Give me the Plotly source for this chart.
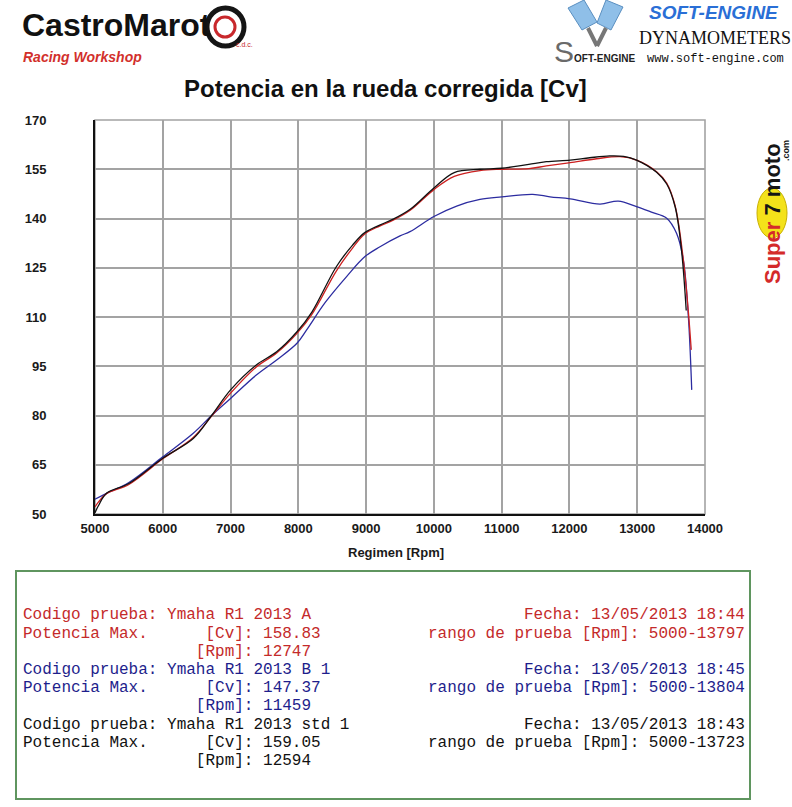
import plotly.graph_objects as go

# ---------------- data ----------------
rpm_a = [5000, 5050, 5170, 5500, 6000, 6450, 6720, 7000, 7380, 7680, 7980, 8200, 8560, 8800,
         8980, 9200, 9400, 9650, 10000, 10300, 10680, 11000, 11400, 11660, 12010, 12400, 12747,
         12990, 13290, 13435, 13560, 13680, 13755, 13797]
cv_a = [52.2, 53.6, 56.2, 59.0, 66.8, 73.3, 79.8, 86.8, 94.8, 99.0, 105.0, 110.8, 124.0, 131.0,
        135.3, 137.7, 139.5, 142.5, 148.8, 152.8, 154.6, 155.0, 155.2, 156.0, 157.0, 158.2, 158.83,
        157.8, 154.2, 150.8, 143.8, 127.5, 111.5, 100.0]

rpm_b = [5000, 5170, 5500, 6000, 6450, 6720, 7000, 7380, 7680, 7980, 8120, 8400, 8712, 8983,
         9205, 9500, 9647, 10000, 10336, 10680, 11000, 11459, 11713, 12010, 12450, 12720, 12990,
         13200, 13435, 13580, 13680, 13755, 13804]
cv_b = [54.5, 56.3, 59.6, 67.4, 74.6, 80.0, 85.2, 92.3, 96.9, 102.0, 106.0, 114.5, 122.3, 128.4,
        131.4, 134.7, 136.0, 140.6, 143.8, 145.8, 146.6, 147.37, 146.6, 146.0, 144.4, 145.3, 143.6,
        142.0, 140.1, 135.5, 127.4, 110.0, 87.8]

rpm_std = [5000, 5050, 5170, 5500, 6000, 6450, 6720, 7000, 7380, 7680, 7980, 8200, 8560, 8800,
           8980, 9200, 9400, 9650, 10000, 10300, 10680, 11000, 11400, 11660, 12010, 12300, 12594,
           12800, 12990, 13290, 13435, 13560, 13650, 13723]
cv_std = [50.4, 52.5, 56.3, 59.3, 67.0, 73.0, 80.0, 87.8, 95.4, 99.4, 105.5, 111.5, 125.3, 131.9,
          135.7, 138.0, 139.8, 142.8, 149.3, 154.0, 155.0, 155.3, 156.5, 157.3, 157.8, 158.5, 159.05,
          158.9, 157.8, 154.0, 150.5, 143.5, 131.0, 112.0]

x_ticks = [5000, 6000, 7000, 8000, 9000, 10000, 11000, 12000, 13000, 14000]
y_ticks = [50, 65, 80, 95, 110, 125, 140, 155, 170]

title_text = "Potencia en la rueda corregida [Cv]"
x_title = "Regimen [Rpm]"

left_lines = [
    ("Codigo prueba: Ymaha R1 2013 A", "red"),
    ("Potencia Max.      [Cv]: 158.83", "red"),
    ("                  [Rpm]: 12747", "red"),
    ("Codigo prueba: Ymaha R1 2013 B 1", "blue"),
    ("Potencia Max.      [Cv]: 147.37", "blue"),
    ("                  [Rpm]: 11459", "blue"),
    ("Codigo prueba: Ymaha R1 2013 std 1", "black"),
    ("Potencia Max.      [Cv]: 159.05", "black"),
    ("                  [Rpm]: 12594", "black"),
]
right_lines = [
    ("Fecha: 13/05/2013 18:44", "red", 0),
    ("rango de prueba [Rpm]: 5000-13797", "red", 1),
    ("Fecha: 13/05/2013 18:45", "blue", 3),
    ("rango de prueba [Rpm]: 5000-13804", "blue", 4),
    ("Fecha: 13/05/2013 18:43", "black", 6),
    ("rango de prueba [Rpm]: 5000-13723", "black", 7),
]

COL = {"red": "#c42a2a", "blue": "#1e1e8c", "black": "#111111"}

# ---------------- geometry helpers ----------------
W, H = 792, 807
L, R, T, B = 95, 705, 120, 514


def px(x):
    return (x - L) / (R - L)


def py(y):
    return (B - y) / (B - T)


def path(points):
    return "M " + " L ".join(f"{px(x):.5f},{py(y):.5f}" for x, y in points) + " Z"


fig = go.Figure()
fig.add_trace(go.Scatter(x=rpm_b, y=cv_b, mode="lines", line=dict(color="#2c2ca0", width=1.3),
                         line_shape="spline", hoverinfo="x+y"))
fig.add_trace(go.Scatter(x=rpm_a, y=cv_a, mode="lines", line=dict(color="#cc2020", width=1.3),
                         line_shape="spline", hoverinfo="x+y"))
fig.add_trace(go.Scatter(x=rpm_std, y=cv_std, mode="lines", line=dict(color="#111111", width=1.3),
                         line_shape="spline", hoverinfo="x+y"))

tickfont = dict(family="Liberation Sans, Arial, sans-serif", size=13, color="#1a1a1a", weight="bold")

fig.update_layout(
    width=W, height=H,
    margin=dict(l=L, r=W - R, t=T, b=H - B),
    paper_bgcolor="white", plot_bgcolor="white",
    showlegend=False,
    xaxis=dict(range=[5000, 14000], tickvals=x_ticks, ticktext=[str(v) for v in x_ticks],
               showgrid=True, gridcolor="#a3a3a3", gridwidth=1.6, zeroline=False,
               showline=True, linecolor="#111", linewidth=2, ticks="", tickfont=tickfont,
               ticklabelstandoff=1, fixedrange=True),
    yaxis=dict(range=[50, 170], tickvals=y_ticks, ticktext=[str(v) for v in y_ticks],
               showgrid=True, gridcolor="#a3a3a3", gridwidth=1.6, zeroline=False,
               showline=True, linecolor="#111", linewidth=2, ticks="", tickfont=tickfont,
               ticklabelstandoff=44, fixedrange=True),
)

shapes = []
shapes.append(dict(type="rect", xref="paper", yref="paper", x0=0, x1=1, y0=0, y1=1,
                   line=dict(color="#a3a3a3", width=1.6), layer="below"))
shapes.append(dict(type="rect", xref="paper", yref="paper", x0=px(16), x1=px(750), y0=py(571), y1=py(799),
                   line=dict(color="#5f955f", width=2), fillcolor="rgba(0,0,0,0)"))
# CastroMarot wheel logo
shapes.append(dict(type="circle", xref="paper", yref="paper", x0=px(207), x1=px(244), y0=py(46), y1=py(8),
                   line=dict(color="#151515", width=5), fillcolor="rgba(0,0,0,0)"))
shapes.append(dict(type="circle", xref="paper", yref="paper", x0=px(215), x1=px(235), y0=py(37), y1=py(17),
                   line=dict(color="#c8282c", width=3), fillcolor="rgba(0,0,0,0)"))
# soft-engine pistons
shapes.append(dict(type="path", xref="paper", yref="paper",
                   path=path([(568, 8), (584, 0), (597, 22), (582, 30)]),
                   fillcolor="#8fbfe8", line=dict(color="#5a8fc0", width=1)))
shapes.append(dict(type="path", xref="paper", yref="paper",
                   path=path([(606, 0), (623, 7), (611, 30), (597, 23)]),
                   fillcolor="#8fbfe8", line=dict(color="#5a8fc0", width=1)))
shapes.append(dict(type="line", xref="paper", yref="paper", x0=px(588), y0=py(28), x1=px(597), y1=py(46),
                   line=dict(color="#777", width=4)))
shapes.append(dict(type="line", xref="paper", yref="paper", x0=px(606), y0=py(28), x1=px(597), y1=py(46),
                   line=dict(color="#777", width=4)))
# yellow disc of super7moto logo
shapes.append(dict(type="circle", xref="paper", yref="paper", x0=px(757), x1=px(787), y0=py(238), y1=py(188),
                   line=dict(color="#c9b000", width=1), fillcolor="#f4e21a"))
fig.update_layout(shapes=shapes)

ann = []
sans = "Liberation Sans, Arial, sans-serif"
ann.append(dict(text=f"<b>{title_text}</b>", x=px(385), y=py(88), xref="paper", yref="paper",
                showarrow=False, xanchor="center", yanchor="middle",
                font=dict(family=sans, size=24, color="#111")))
ann.append(dict(text=f"<b>{x_title}</b>", x=px(396), y=py(552), xref="paper", yref="paper",
                showarrow=False, xanchor="center", yanchor="middle",
                font=dict(family=sans, size=13, color="#1a1a1a")))

mono = "Liberation Mono, Courier New, monospace"
line_y = [615, 634, 652, 670, 688, 706, 725, 743, 761]
for i, (t, c) in enumerate(left_lines):
    ann.append(dict(text=t.replace(" ", "\u00a0"), x=px(21), y=py(line_y[i]), xref="paper", yref="paper",
                    showarrow=False, xanchor="left", yanchor="middle",
                    font=dict(family=mono, size=16, color=COL[c])))
for t, c, i in right_lines:
    ann.append(dict(text=t.replace(" ", "\u00a0"), x=px(747), y=py(line_y[i]), xref="paper", yref="paper",
                    showarrow=False, xanchor="right", yanchor="middle",
                    font=dict(family=mono, size=16, color=COL[c])))

# header: CastroMarot
ann.append(dict(text="<b>CastroMarot</b>", x=px(20), y=py(25), xref="paper", yref="paper",
                showarrow=False, xanchor="left", yanchor="middle",
                font=dict(family=sans, size=32, color="#111", weight="bold")))
ann.append(dict(text="<b><i>Racing Workshop</i></b>", x=px(21), y=py(57), xref="paper", yref="paper",
                showarrow=False, xanchor="left", yanchor="middle",
                font=dict(family=sans, size=14, color="#d2302c")))
ann.append(dict(text="c.d.c.", x=px(234), y=py(44), xref="paper", yref="paper",
                showarrow=False, xanchor="left", yanchor="middle",
                font=dict(family=sans, size=7, color="#c8282c")))
# header: soft-engine
ann.append(dict(text="<b><i>SOFT-ENGINE</i></b>", x=px(714), y=py(13), xref="paper", yref="paper",
                showarrow=False, xanchor="center", yanchor="middle",
                font=dict(family=sans, size=19, color="#2a6fd6")))
ann.append(dict(text="DYNAMOMETERS", x=px(715), y=py(38), xref="paper", yref="paper",
                showarrow=False, xanchor="center", yanchor="middle",
                font=dict(family="Liberation Serif, Times New Roman, serif", size=18, color="#111")))
ann.append(dict(text="www.soft-engine.com", x=px(715), y=py(59), xref="paper", yref="paper",
                showarrow=False, xanchor="center", yanchor="middle",
                font=dict(family=mono, size=12, color="#111")))
ann.append(dict(text="S", x=px(552), y=py(51), xref="paper", yref="paper",
                showarrow=False, xanchor="left", yanchor="middle",
                font=dict(family=sans, size=30, color="#6a6a6a")))
ann.append(dict(text="<b>OFT-ENGINE</b>", x=px(572), y=py(58), xref="paper", yref="paper",
                showarrow=False, xanchor="left", yanchor="middle",
                font=dict(family=sans, size=10, color="#222")))
# super7moto side logo
ann.append(dict(text="<b><span style='color:#d42a2a'>Super</span> 7 moto</b>", x=px(772), y=py(214),
                xref="paper", yref="paper", showarrow=False, textangle=-90,
                xanchor="center", yanchor="middle",
                font=dict(family=sans, size=22, color="#151515")))
ann.append(dict(text="<b>.com</b>", x=px(786), y=py(150), xref="paper", yref="paper",
                showarrow=False, textangle=-90, xanchor="center", yanchor="middle",
                font=dict(family=sans, size=9, color="#151515")))
fig.update_layout(annotations=ann)

fig.write_html("out.html")
